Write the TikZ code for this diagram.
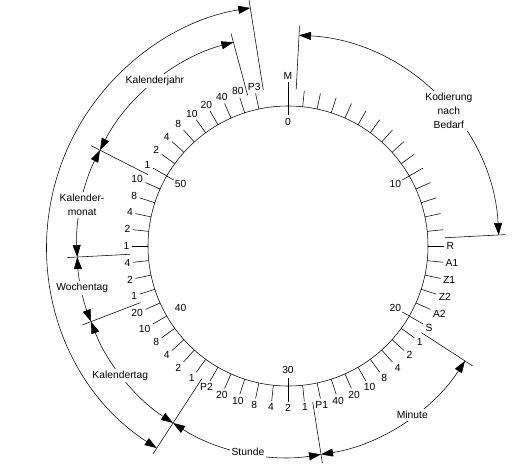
\documentclass[tikz,border=0pt]{standalone}
\usepackage{fontspec}
\setmainfont{Liberation Sans}
\usetikzlibrary{arrows.meta}
\begin{document}
\begin{tikzpicture}[x=1pt,y=1pt,line width=0.55pt,
    every node/.style={font=\fontsize{10.3}{14}\selectfont,inner sep=2.3pt},
    fieldlabel/.style={fill=white,inner sep=2pt,align=center},
    >={Triangle[length=12pt,width=8pt]}]
      \useasboundingbox (-288,-221) rectangle (227,246);

      \draw (0,0) circle[radius=140];

      \draw (90:131)--(90:164) node[anchor=270] {M};
      \draw (84:140)--(84:156);
      \draw (78:140)--(78:156);
      \draw (72:140)--(72:156);
      \draw (66:140)--(66:156);
      \draw (60:140)--(60:156);
      \draw (54:140)--(54:156);
      \draw (48:140)--(48:156);
      \draw (42:140)--(42:156);
      \draw (36:140)--(36:156);
      \draw (30:132)--(30:156);
      \draw (24:140)--(24:156);
      \draw (18:140)--(18:156);
      \draw (12:140)--(12:156);
      \draw (6:140)--(6:156);

      \draw (0:140)--(0:156) node[anchor=180] {R};
      \draw (-6:140)--(-6:156) node[anchor=174] {A1};
      \draw (-12:140)--(-12:156) node[anchor=168] {Z1};
      \draw (-18:140)--(-18:156) node[anchor=162] {Z2};
      \draw (-24:140)--(-24:156) node[anchor=156] {A2};
      \draw (-30:132)--(-30:156) node[anchor=150] {S};

      \draw (-36:140)--(-36:156) node[anchor=144] {1};
      \draw (-42:140)--(-42:156) node[anchor=138] {2};
      \draw (-48:140)--(-48:156) node[anchor=132] {4};
      \draw (-54:140)--(-54:156) node[anchor=126] {8};
      \draw (-60:140)--(-60:156) node[anchor=120] {10};
      \draw (-66:140)--(-66:156) node[anchor=114] {20};
      \draw (-72:140)--(-72:156) node[anchor=108] {40};
      \draw (-78:140)--(-78:156) node[anchor=102] {P1};

      \draw (-84:140)--(-84:156) node[anchor=96] {1};
      \draw (-90:132)--(-90:156) node[anchor=90] {2};
      \draw (-96:140)--(-96:156) node[anchor=84] {4};
      \draw (-102:140)--(-102:156) node[anchor=78] {8};
      \draw (-108:140)--(-108:156) node[anchor=72] {10};
      \draw (-114:140)--(-114:156) node[anchor=66] {20};
      \draw (-120:140)--(-120:156) node[anchor=60] {P2};

      \draw (-126:140)--(-126:156) node[anchor=54] {1};
      \draw (-132:140)--(-132:156) node[anchor=48] {2};
      \draw (-138:140)--(-138:156) node[anchor=42] {4};
      \draw (-144:140)--(-144:156) node[anchor=36] {8};
      \draw (-150:140)--(-150:156) node[anchor=30] {10};
      \draw (-156:140)--(-156:156) node[anchor=24] {20};

      \draw (-162:140)--(-162:156) node[anchor=18] {1};
      \draw (-168:140)--(-168:156) node[anchor=12] {2};
      \draw (-174:140)--(-174:156) node[anchor=6] {4};

      \draw (-180:140)--(-180:156) node[anchor=0] {1};
      \draw (-186:140)--(-186:156) node[anchor=354] {2};
      \draw (-192:140)--(-192:156) node[anchor=348] {4};
      \draw (-198:140)--(-198:156) node[anchor=342] {8};
      \draw (-204:140)--(-204:156) node[anchor=336] {10};

      \draw (-210:132)--(-210:156) node[anchor=330] {1};
      \draw (-216:140)--(-216:156) node[anchor=324] {2};
      \draw (-222:140)--(-222:156) node[anchor=318] {4};
      \draw (-228:140)--(-228:156) node[anchor=312] {8};
      \draw (-234:140)--(-234:156) node[anchor=306] {10};
      \draw (-240:140)--(-240:156) node[anchor=300] {20};
      \draw (-246:140)--(-246:156) node[anchor=294] {40};
      \draw (-252:140)--(-252:156) node[anchor=288] {80};
      \draw (-258:140)--(-258:156) node[anchor=282] {P3};

      \node (n0) at (90:124) {0};
      \node (n10) at (30:124) {10};
      \node (n20) at (-30:124) {20};
      \node (n30) at (-90:124) {30};
      \node (n40) at (-150:124) {40};
      \node (n50) at (-210:124) {50};

      \draw (87:157)--(87:220);
      \draw (3:157)--(3:218);
      \draw (-33:159)--(-33:220);
      \draw (-81:158)--(-81:220);
      \draw (-123:158)--(-123:248);
      \draw (-159:158)--(-159:220);
      \draw (-177:158)--(-177:221);
      \draw (-207:157)--(-207:221);
      \draw (-255:156)--(-255:220);
      \draw (-261:158)--(-261:250);

      \draw[<->] (87:211) arc[start angle=87,end angle=3,radius=211];
      \draw[<->] (-33:211) arc[start angle=-33,end angle=-81,radius=211];
      \draw[<->] (-81:211) arc[start angle=-81,end angle=-123,radius=211];
      \draw[<->] (-123:211) arc[start angle=-123,end angle=-159,radius=211];
      \draw[<->] (-159:211) arc[start angle=-159,end angle=-177,radius=211];
      \draw[<->] (-177:211) arc[start angle=-177,end angle=-207,radius=211];
      \draw[<->] (-207:211) arc[start angle=-207,end angle=-255,radius=211];
      \draw[<->] (-123:241) arc[start angle=-123,end angle=-261,radius=241];

      \node[fieldlabel] (kodierung) at (40:210) {Kodierung\\nach\\Bedarf};
      \node[fieldlabel] (minute) at (-53.7:210) {Minute};
      \node[fieldlabel] (stunde) at (-101:210) {Stunde};
      \node[fieldlabel] (kalendertag) at (217.7:212) {Kalendertag};
      \node[fieldlabel] (wochentag) at (-168.5:210) {Wochentag};
      \node[fieldlabel] (kalendermonat) at (168.7:210) {Kalender-\\monat};
      \node[fieldlabel] (kalenderjahr) at (128.9:212) {Kalenderjahr};

    \end{tikzpicture}
\end{document}
